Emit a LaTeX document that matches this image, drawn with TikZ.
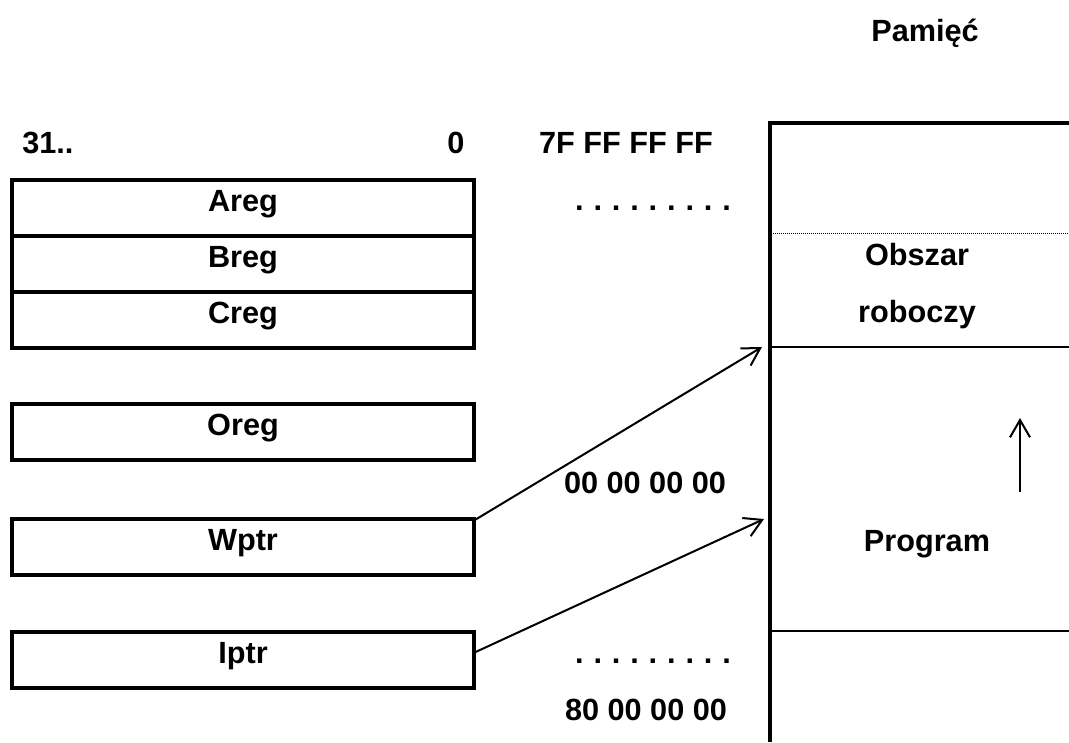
\documentclass[tikz,border=0pt]{standalone}
\usepackage{fontspec}
\setmainfont{Liberation Sans}
\usetikzlibrary{arrows.meta,calc}
% row of spaced dots marking skipped addresses
\newcommand\addrdots{.\hskip7.4pt.\hskip7.4pt.\hskip7.4pt.\hskip7.4pt.\hskip7.4pt.\hskip7.4pt.\hskip7.4pt.\hskip7.4pt.}
\begin{document}
\begin{tikzpicture}[x=0.75pt,y=-0.75pt,
  every node/.style={font=\fontsize{23}{27}\selectfont\bfseries, inner sep=0pt},
  reg/.style={draw, line width=2.4pt, minimum width=346.5pt, minimum height=42pt,
              text height=16.5pt, text depth=12pt},
  lbl/.style={anchor=base},
  link/.style={line width=1.5pt, -{Straight Barb[length=13pt,width=15pt,line width=1.5pt]}},
  ]
\useasboundingbox (0,0) rectangle (1069,742);

% processor registers
\node[reg] (areg) at (243,208) {Areg};
\node[reg] (breg) at (243,264) {Breg};
\node[reg] (creg) at (243,320) {Creg};
\node[reg] (oreg) at (243,432) {Oreg};
\node[reg] (wptr) at (243,547) {Wptr};
\node[reg] (iptr) at (243,660) {Iptr};

% bit numbering
\node[lbl, anchor=base west] (b31) at (22,153) {31..};
\node[lbl] (b0) at (456,153) {0};

% memory column
\node[lbl] (pam) at (925,41) {Pamięć};
\draw[line width=2.4pt] (1069,123) -- (770,123) -- (770,742);
\draw[line width=0.75pt, dash pattern=on 0.75pt off 0.75pt] (771,233) -- (1069,233);
\draw[line width=2pt] (771,347) -- (1069,347);
\draw[line width=1.5pt] (771,631) -- (1069,631);

\node[lbl] (obs) at (917,265) {Obszar};
\node[lbl] (rob) at (917,322) {roboczy};
\node[lbl] (prog) at (927,551) {Program};

% addresses
\node[lbl] (atop) at (626,153) {7F FF FF FF};
\node[lbl] (dtop) at (653,210) {\addrdots};
\node[lbl] (azero) at (645,493) {00 00 00 00};
\node[lbl] (dbot) at (653,663) {\addrdots};
\node[lbl] (abot) at (646,720) {80 00 00 00};

% growth direction of the program area
\coordinate (up0) at (1020,492);
\coordinate (up1) at (1020,418);
\draw[link] (up0) -- (up1);

% pointers into memory
\coordinate (wsp) at (762,347);
\coordinate (prg) at (764,519);
\draw[link] ([yshift=20.6pt]wptr.east) -- (wsp);
\draw[link] ([yshift=6pt]iptr.east) -- (prg);
\end{tikzpicture}
\end{document}
